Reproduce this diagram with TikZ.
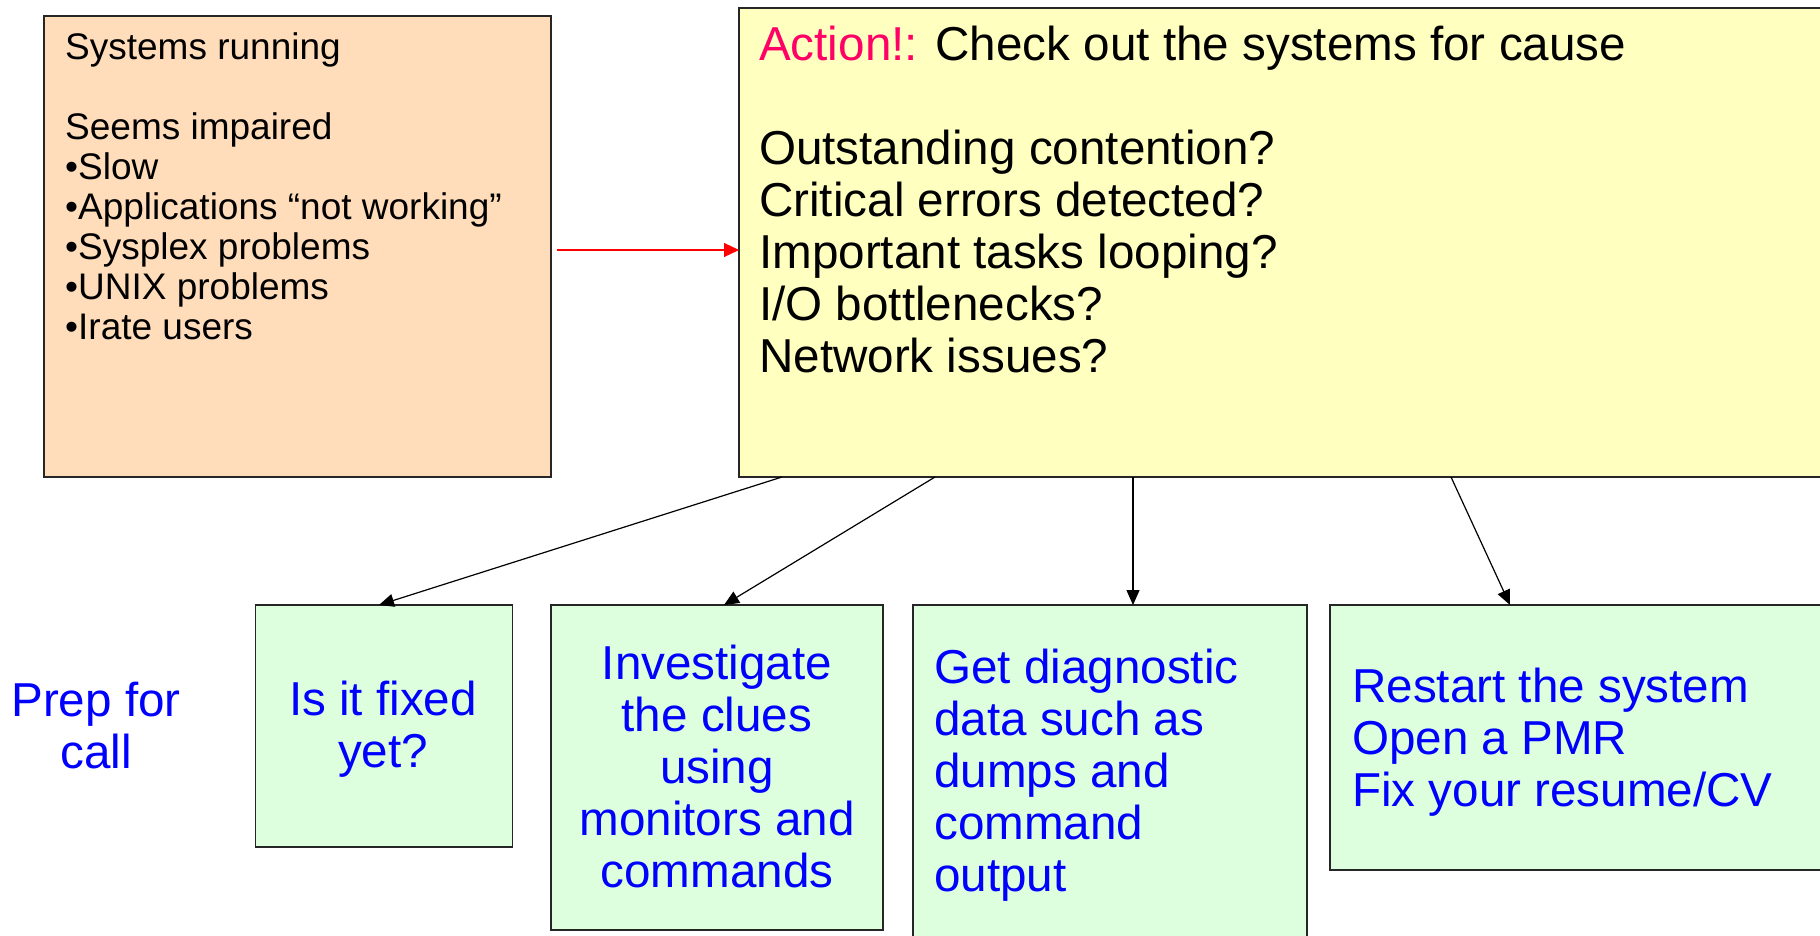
\documentclass[tikz,border=0pt]{standalone}
\usepackage{fontspec}
\setmainfont{Liberation Sans}
\usetikzlibrary{arrows.meta,calc}
\definecolor{peach}{RGB}{255,221,187}
\definecolor{paleyellow}{RGB}{255,255,192}
\definecolor{palegreen}{RGB}{221,255,221}
\definecolor{actionred}{RGB}{255,0,102}
\definecolor{textblue}{RGB}{0,0,255}

\begin{document}
\begin{tikzpicture}[x=1pt,y=-1pt,
  box/.style={draw=black!85, line width=1.8pt, anchor=north west,
    inner sep=0pt, outer sep=0pt, rectangle},
  smalltxt/.style={anchor=north west, inner sep=0pt, align=left,
    font=\fontsize{37}{40}\selectfont},
  bigtxt/.style={anchor=north west, inner sep=0pt, align=left,
    font=\fontsize{47.6}{52}\selectfont},
  bluetxt/.style={bigtxt, text=textblue},
  bluecenter/.style={bluetxt, anchor=north, align=center},
  flow/.style={line width=1.2pt, -{Triangle[length=15pt,width=13pt]}},
  redflow/.style={draw=red, line width=1.2pt, -{Triangle[length=15pt,width=14pt]}}
]
\useasboundingbox (0,0) rectangle (1820,936);
\clip (0,0) rectangle (1820,936);

% boxes
\node[box, fill=peach, minimum width=507pt, minimum height=461pt] (sym) at (44,16) {};
\node[box, fill=paleyellow, minimum width=1100pt, minimum height=469pt] (act) at (739,8) {};
\node[box, fill=palegreen, minimum width=257pt, minimum height=242pt] (g1) at (255.5,605) {};
\node[box, fill=palegreen, minimum width=332pt, minimum height=325pt] (g2) at (551,605) {};
\node[box, fill=palegreen, minimum width=394pt, minimum height=400pt] (g3) at (913,605) {};
\node[box, fill=palegreen, minimum width=600pt, minimum height=265pt] (g4) at (1330,605) {};

% texts
\node[smalltxt] (symtext) at (65,31.3) {\strut Systems running\\[40pt]
  Seems impaired\\ •Slow\\ •Applications “not working”\\ •Sysplex problems\\
  •UNIX problems\\ •Irate users};
\node[bigtxt] (acttext) at (759,23.6) {\strut\textcolor{actionred}{Action!:} Check out the systems for cause\\[52pt]
  Outstanding contention?\\ Critical errors detected?\\ Important tasks looping?\\
  I/O bottlenecks?\\ Network issues?};
\node[bluecenter] (prep) at (96,679.6) {\strut Prep for\\ call};
\node[bluecenter] (g1text) at (383,678.6) {\strut Is it fixed\\ yet?};
\node[bluecenter] (g2text) at (717,642.6) {\strut Investigate\\ the clues\\ using\\ monitors and\\ commands};
\node[bluetxt] (g3text) at (934,646.6) {\strut Get diagnostic\\ data such as\\ dumps and\\ command\\ output};
\node[bluetxt] (g4text) at (1352,665.6) {\strut Restart the system\\ Open a PMR\\ Fix your resume/CV};

% connectors
\coordinate (redstart) at ($(sym.north east)+(6,234)$);
\draw[redflow] (redstart) -- (redstart -| act.west);
\draw[flow] ($(act.south west)+(43,0)$) -- ($(g1.north west)+(123.5,0)$);
\draw[flow] ($(act.south west)+(196,0)$) -- ($(g2.north west)+(173,0)$);
\draw[flow] ($(act.south west)+(394,0)$) -- ($(g3.north west)+(220,0)$);
\draw[flow] ($(act.south west)+(712,0)$) -- ($(g4.north west)+(180,0)$);
\end{tikzpicture}
\end{document}
